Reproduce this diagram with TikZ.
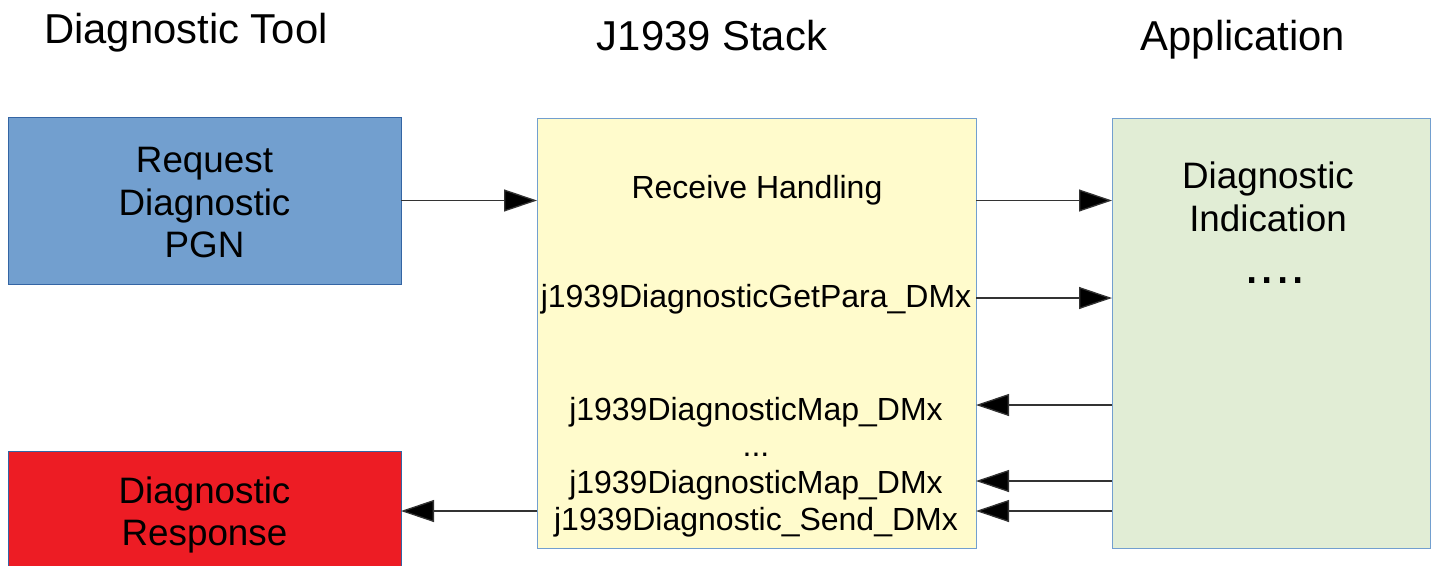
\documentclass[tikz,border=0pt]{standalone}
\usepackage{fontspec}
\setmainfont{Liberation Sans}
\usetikzlibrary{arrows.meta}
\definecolor{bluefill}{HTML}{729FCF}
\definecolor{blueline}{HTML}{3465A4}
\definecolor{redfill}{HTML}{ED1C24}
\definecolor{yelfill}{HTML}{FFFBCC}
\definecolor{grnfill}{HTML}{E1EDD5}
\definecolor{boxline}{HTML}{729FCF}
\definecolor{arrline}{HTML}{333333}
\begin{document}
\begin{tikzpicture}[x=1pt,y=-1pt,
  box/.style={draw=blueline,line width=1pt,minimum width=#1,inner sep=0pt,outer sep=0pt,align=center},
  big/.style={font=\fontsize{36.8}{42.5}\selectfont},
  mid/.style={font=\fontsize{32}{36.8}\selectfont},
  ttl/.style={font=\fontsize{41.8}{48}\selectfont},
  arr/.style={draw=arrline,line width=1.3pt,-{Triangle[length=33pt,width=22pt,fill=black]}}]
\useasboundingbox (0,0) rectangle (1437,565);
\clip (0,0) rectangle (1437,565);
% titles
\node[ttl,anchor=base] (t1) at (186,43) {Diagnostic Tool};
\node[ttl,anchor=base] (t2) at (712,50) {J1939 Stack};
\node[ttl,anchor=base] (t3) at (1243,50) {Application};
% boxes
\node[box=393pt,fill=bluefill,minimum height=167pt] (req) at (204.5,200.5) {};
\node[big,align=center] (reqtxt) at (204.5,203) {Request\\Diagnostic\\PGN};
\node[box=393pt,fill=redfill,minimum height=122pt] (resp) at (204.5,512) {};
\node[big,align=center] (resptxt) at (204.5,515) {Diagnostic\\Response};
\node[box=439pt,draw=boxline,fill=yelfill,minimum height=430pt] (stack) at (756.5,333) {};
\node[box=318pt,draw=boxline,fill=grnfill,minimum height=430pt] (app) at (1271,333) {};
% stack texts
\node[mid] (recv) at (757,190) {Receive Handling};
\node[mid] (getpara) at (756,299) {j1939DiagnosticGetPara\_DMx};
\node[mid,align=center] (maps) at (756,467) {j1939DiagnosticMap\_DMx\\...\\j1939DiagnosticMap\_DMx\\j1939Diagnostic\_Send\_DMx};
% app texts
\node[big,align=center] (ind) at (1268,197) {Diagnostic\\Indication};
\node[font=\fontsize{55}{60}\selectfont,anchor=base] (dots) at (1275,283) {....};
% arrows
\draw[arr] (req.east) -- (req.east -| stack.west);
\draw[arr] (stack.east |- req.east) -- (app.west |- req.east);
\draw[arr] (stack.east |- 0,298) -- (app.west |- 0,298);
\draw[arr] (app.west |- 0,405) -- (stack.east |- 0,405);
\draw[arr] (app.west |- 0,481) -- (stack.east |- 0,481);
\draw[arr] (app.west |- 0,511) -- (stack.east |- 0,511);
\draw[arr] (stack.west |- 0,511) -- (req.east |- 0,511);
\end{tikzpicture}
\end{document}
